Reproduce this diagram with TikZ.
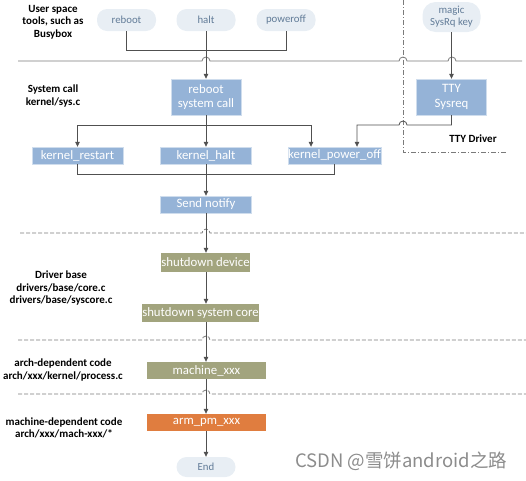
\documentclass[tikz,border=0pt]{standalone}
\usepackage{fontspec}
\setmainfont{Carlito}
\newfontfamily\cjkfont{Noto Sans CJK SC}
\usetikzlibrary{arrows.meta}
\definecolor{bluec}{HTML}{95B3D7}
\definecolor{olivec}{HTML}{A2A47E}
\definecolor{orangec}{HTML}{E07D3F}
\definecolor{pillc}{HTML}{E8EEF4}
\definecolor{pilltext}{HTML}{627C98}
\definecolor{linec}{HTML}{505050}
\definecolor{sepc}{HTML}{7A7A7A}
\begin{document}
\begin{tikzpicture}[x=1pt, y=1pt,
  pill/.style={fill=pillc, text=pilltext, rounded corners=10pt, inner sep=0pt, align=center,
    font=\fontsize{10.8}{12}\selectfont, minimum width=59pt, minimum height=22pt},
  boxn/.style={text=white, inner sep=0pt, align=center, font=\fontsize{12.8}{14.5}\selectfont},
  bluebox/.style={boxn, fill=bluec, draw=white!55!bluec, line width=0.4pt},
  olivebox/.style={boxn, fill=olivec},
  orangebox/.style={boxn, fill=orangec},
  lab/.style={font=\bfseries\fontsize{11}{12.5}\selectfont, align=center, text=black, inner sep=0pt},
  conn/.style={draw=linec, line width=0.8pt},
  arr/.style={conn, -{Triangle[width=4.5pt,length=5pt]}},
  sep/.style={draw=sepc, line width=0.8pt},
  dsep/.style={sep, dash pattern=on 4pt off 2pt},
  wm/.style={font=\cjkfont\fontsize{18.5}{20}\selectfont, text=black!45, inner sep=0pt}
]
\useasboundingbox (0,0) rectangle (526,-480);

% separators
\draw[sep] (18,-61) -- (202,-61) arc(180:0:4) -- (399,-61) arc(180:0:4) -- (448,-61) arc(180:0:4) -- (522,-61);
\draw[dsep] (20,-233) -- (202,-233) arc(180:0:4) -- (526,-233);
\draw[dsep] (18,-340) -- (202,-340) arc(180:0:4) -- (526,-340);
\draw[dsep] (18,-394) -- (202,-394) arc(180:0:4) -- (526,-394);
\draw[sep, dash pattern=on 5pt off 2pt on 1pt off 2pt] (403,0) -- (403,-152) -- (507,-152);

% user space pills
\node[pill] (reboot) at (126.5,-20) {reboot};
\node[pill] (halt) at (206,-20) {halt};
\node[pill] (poweroff) at (286,-20) {poweroff};
\node[pill, minimum width=58pt, minimum height=30pt, rounded corners=13pt] (magic) at (451.5,-17) {magic\\SysRq key};

% system call
\node[bluebox, minimum width=70pt, minimum height=36pt] (rsc) at (206,-97) {reboot\\system call};
\node[bluebox, minimum width=70pt, minimum height=36pt] (tty) at (451.5,-97) {TTY\\Sysreq};

\node[bluebox, minimum width=91pt, minimum height=17pt] (krest) at (77.5,-155.5) {kernel\_restart};
\node[bluebox, minimum width=91pt, minimum height=17pt] (khalt) at (206,-155.5) {kernel\_halt};
\node[bluebox, minimum width=91pt, minimum height=17pt] (kpoff) at (334.5,-155.5) {kernel\_power\_off};
\node[bluebox, minimum width=91pt, minimum height=17pt] (send) at (206,-204.5) {Send notify};

% driver base
\node[olivebox, minimum width=89pt, minimum height=19pt] (sdev) at (205.5,-262.5) {shutdown device};
\node[olivebox, minimum width=107pt, minimum height=18pt] (score) at (200.5,-313) {shutdown system core};

% arch / machine
\node[olivebox, minimum width=119pt, minimum height=17pt] (mach) at (206.5,-370.5) {machine\_xxx};
\node[orangebox, minimum width=119pt, minimum height=17pt] (arm) at (206.5,-422.5) {arm\_pm\_xxx};
\node[pill, minimum height=20pt] (endp) at (206,-467) {End};

% labels
\node[lab] (ul) at (53,-22) {User space\\tools, such as\\Busybox};
\node[lab] (sl) at (53,-96) {System call\\kernel/sys.c};
\node[lab] (dl) at (61,-288) {Driver base\\drivers/base/core.c\\drivers/base/syscore.c};
\node[lab] (al) at (63,-370) {arch-dependent code\\arch/xxx/kernel/process.c};
\node[lab] (ml) at (64,-428) {machine-dependent code\\arch/xxx/mach-xxx/*};
\node[lab] (ttyl) at (473,-139) {TTY Driver};
\node[wm] (wm) at (401,-461) {CSDN @雪饼android之路};

% connectors
\draw[conn] (reboot.south) -- ++(0,-19) -| (poweroff.south);
\draw[arr] (halt.south) -- (rsc.north);
\draw[arr] (magic.south) -- (magic.south |- tty.north);

\coordinate (j1) at (206,-125);
\draw[conn] (rsc.south) -- (j1);
\draw[arr] (j1) -| (krest.north);
\draw[arr] (j1) -- (khalt.north);
\draw[arr] (j1) -| ([xshift=-23.5pt]kpoff.north);
\draw[arr] (tty.south) -- (451.5,-125) -- (407,-125) arc(0:180:4) -| ([xshift=22.5pt]kpoff.north);

\draw[conn] (krest.south) -- ++(0,-10) -| (kpoff.south);
\draw[arr] (khalt.south) -- (send.north);
\draw[arr] (send.south) -- (send.south |- sdev.north);
\draw[arr] (send.south |- sdev.south) -- (send.south |- score.north);
\draw[arr] (send.south |- score.south) -- (send.south |- mach.north);
\draw[arr] (send.south |- mach.south) -- (send.south |- arm.north);
\draw[arr] (send.south |- arm.south) -- (endp.north);
\end{tikzpicture}
\end{document}
